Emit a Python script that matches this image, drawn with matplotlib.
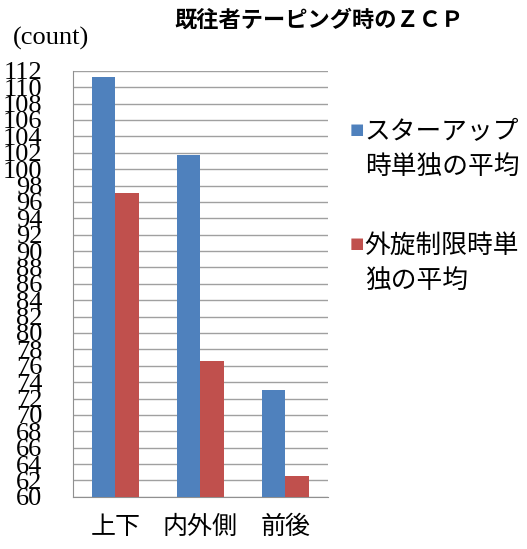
import matplotlib
matplotlib.use('Agg')
import matplotlib.pyplot as plt
import numpy as np

# Données
categories = ['上下', '内外側', '前後']
series_names = ['スターアップ\n時単独の平均', '外旋制限時単\n独の平均']
starup = [111.2, 101.7, 73.0]
gaisen = [97.1, 76.6, 62.5]
yticks = list(range(60, 113, 2))

colors = ['#4F81BD', '#C0504D']
jp = ['Noto Sans CJK JP', 'DejaVu Sans']

fig = plt.figure(figsize=(5.27, 5.49), dpi=100)
ax = fig.add_axes([0.1385, 0.095, 0.4835, 0.776])

x = np.arange(len(categories))
w = 0.28
ax.bar(x - w / 2, starup, w, color=colors[0], zorder=3)
ax.bar(x + w / 2, gaisen, w, color=colors[1], zorder=3)

ax.set_xlim(-0.5, 2.5)
ax.set_ylim(60, 112)
ax.set_yticks(yticks)
ax.set_yticklabels([str(v) for v in yticks], family='Liberation Serif', fontsize=19)
ax.yaxis.grid(True, color='#a0a0a0', linewidth=1, zorder=0)
ax.tick_params(axis='y', length=0, pad=22)
ax.set_xticks(x)
ax.set_xticklabels(categories, family=jp, fontsize=18)
ax.tick_params(axis='x', length=0, pad=12)

for s in ['top', 'right']:
    ax.spines[s].set_visible(False)
for s in ['left', 'bottom']:
    ax.spines[s].set_color('#909090')

fig.text(0.605, 0.963, '既往者テーピング時のＺＣＰ', family=jp, fontsize=16,
         fontweight='bold', ha='center', va='center')
fig.text(0.025, 0.93, '(count)', family='Liberation Serif', fontsize=19,
         ha='left', va='center')

# Légende faite à la main : le carré est aligné sur la première ligne
for i, (nom, c) in enumerate(zip(series_names, colors)):
    y = 0.765 - i * 0.208
    fig.text(0.677, y, '■', color=c, fontsize=11, family='DejaVu Sans',
             ha='center', va='center')
    fig.text(0.692, y + 0.018, nom, family=jp, fontsize=18.5, ha='left',
             va='top', linespacing=1.45)

plt.savefig('out.png', dpi=100)
